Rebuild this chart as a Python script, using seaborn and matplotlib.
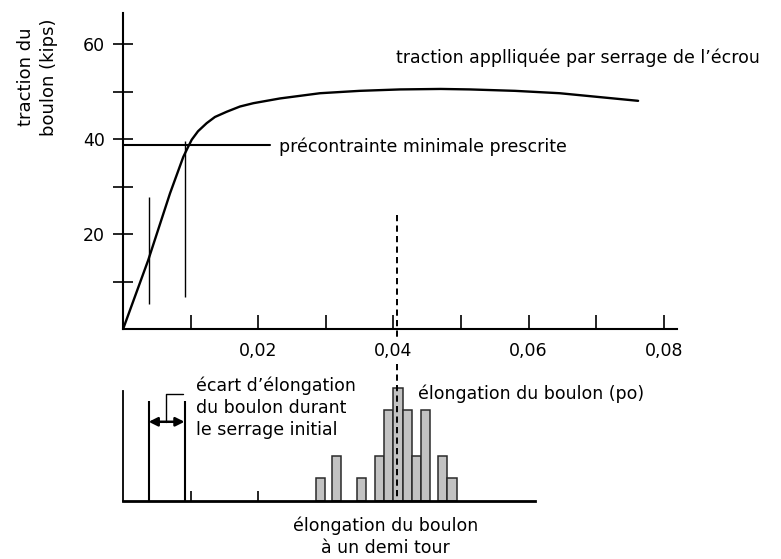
import matplotlib
matplotlib.use("Agg")
import matplotlib.pyplot as plt
import seaborn as sns
import pandas as pd

# ---------------- data ----------------
# tension curve (elongation in inches, tension in kips)
curve_x = [0.0, 0.00374, 0.00695, 0.00892, 0.00960, 0.01016, 0.01110, 0.01238,
           0.01360, 0.01534, 0.01730, 0.01928, 0.02322, 0.02914, 0.03500,
           0.04098, 0.04700, 0.05133, 0.05800, 0.06460, 0.0762]
curve_y = [0.0, 14.6, 28.6, 36.3, 38.3, 39.9, 41.7, 43.4,
           44.7, 45.8, 46.9, 47.6, 48.6, 49.7, 50.2,
           50.5, 50.6, 50.5, 50.2, 49.7, 48.1]

# distribution of elongation at half turn
bar_x = [0.02917, 0.03156, 0.03525, 0.03795, 0.03932, 0.04069, 0.04206,
         0.04343, 0.04480, 0.04729, 0.04867]
bar_counts = [1, 2, 1, 2, 4, 5, 4, 2, 4, 2, 1]

x_ticks_major = [0.02, 0.04, 0.06, 0.08]
x_tick_labels = ["0,02", "0,04", "0,06", "0,08"]
x_ticks_minor = [0.01, 0.03, 0.05, 0.07]
y_ticks_major = [20, 40, 60]
y_tick_labels = ["20", "40", "60"]
y_ticks_minor = [10, 30, 50]

preload_level = 38.8            # précontrainte minimale prescrite
preload_end_x = 0.0217
snug_x = [0.0038, 0.0091]       # range of elongation at snug-tight
snug_top_low = [5.3, 6.7]
snug_top_high = [27.8, 39.7]
half_turn_x = 0.0405

# ---------------- style ----------------
sns.set_theme(style="ticks")
plt.rcParams['font.family'] = ['DejaVu Sans']
for k in ["text.color", "axes.labelcolor", "xtick.color", "ytick.color",
          "axes.edgecolor"]:
    plt.rcParams[k] = "black"
FS = 12.5

W, H = 781, 559
fig = plt.figure(figsize=(W / 100, H / 100), dpi=100)
# pixel geometry
x0, x1 = 123, 677
top_base, top_top = 329.3, 13
bot_base, bot_top = 501, 380
ax = fig.add_axes([x0 / W, (H - top_base) / H, (x1 - x0) / W, (top_base - top_top) / H])
ax2 = fig.add_axes([x0 / W, (H - bot_base) / H, (x1 - x0) / W, (bot_base - bot_top) / H])
xmax = (x1 - x0) / 6760
ymax_top = (top_base - top_top) / 4.75
ymax_bot = (bot_base - bot_top) / 22.7

# ---------------- top chart ----------------
curve = pd.DataFrame({"x": curve_x, "y": curve_y})
sns.lineplot(data=curve, x="x", y="y", ax=ax, color="black", lw=1.7,
             sort=False, estimator=None)
ax.plot([0, preload_end_x], [preload_level, preload_level], color="black", lw=1.5)
ax.vlines(snug_x, snug_top_low, snug_top_high, color="black", lw=1.0)
ax.plot([half_turn_x, half_turn_x], [24.1, -2.3], color="black", lw=1.4,
        ls=(0, (3.2, 2.2)), clip_on=False)

ax.set_xlim(0, xmax)
ax.set_ylim(0, ymax_top)
ax.set_xlabel("")
ax.set_ylabel("")
for s in ["top", "right"]:
    ax.spines[s].set_visible(False)
for s in ["left", "bottom"]:
    ax.spines[s].set_linewidth(1.5)
    ax.spines[s].set_color("black")

ax.set_xticks(x_ticks_major, x_tick_labels)
ax.set_xticks(x_ticks_minor, minor=True)
ax.set_yticks(y_ticks_major, y_tick_labels)
ax.set_yticks(y_ticks_minor, minor=True)
ax.tick_params(axis="x", which="both", direction="in", length=10, width=1.2,
               color="black", labelcolor="black", labelsize=FS, pad=9, bottom=True)
ax.tick_params(axis="y", which="both", direction="inout", length=14.5, width=1.2,
               color="black", labelcolor="black", labelsize=FS, pad=6, left=True)

ax.text(0.04038, 56.0, "traction applliquée par serrage de l’écrou",
        fontsize=FS, ha="left", va="baseline", color="black")
ax.text(0.02313, 37.4, "précontrainte minimale prescrite",
        fontsize=FS, ha="left", va="baseline", color="black")
fig.text(37.5 / W, 1 - 77 / H, "traction du\nboulon (kips)", rotation=90,
         fontsize=FS + 0.5, ha="center", va="center", multialignment="center",
         linespacing=1.3, color="black")

# ---------------- bottom chart ----------------
hist = pd.DataFrame({"x": bar_x, "n": bar_counts})
sns.barplot(data=hist, x="x", y="n", ax=ax2, native_scale=True, orient="x",
            width=1.0, color="#c2c2c2", edgecolor="#2a2a2a", linewidth=1.1,
            saturation=1)
ax2.plot([half_turn_x, half_turn_x], [6.03, 0], color="black", lw=1.4,
         ls=(0, (3.2, 2.2)), clip_on=False)
ax2.vlines(snug_x, [0, 0], [4.42, 4.42], color="black", lw=1.5)
ax2.annotate("", xy=(snug_x[0], 3.49), xytext=(snug_x[1], 3.49),
             arrowprops=dict(arrowstyle="<|-|>", lw=1.8, color="black",
                             shrinkA=0, shrinkB=0, mutation_scale=13))
ax2.plot([0.00632, 0.00632, 0.0089], [3.49, 4.70, 4.70], color="black", lw=1.0)

ax2.set_xlim(0, xmax)
ax2.set_ylim(0, ymax_bot)
ax2.set_xlabel("")
ax2.set_ylabel("")
for s in ["top", "right"]:
    ax2.spines[s].set_visible(False)
ax2.spines["bottom"].set_bounds(0, 0.061)
ax2.spines["left"].set_bounds(0, 4.85)
ax2.spines["bottom"].set_linewidth(2)
ax2.spines["left"].set_linewidth(1.3)
for s in ["left", "bottom"]:
    ax2.spines[s].set_color("black")
ax2.set_xticks([0.01, 0.02], ["", ""])
ax2.set_yticks([])
ax2.tick_params(axis="x", direction="in", length=7, width=1.2, color="black",
                bottom=True)

ax2.text(0.04364, 4.48, "élongation du boulon (po)", fontsize=FS,
         ha="left", va="baseline", color="black")
ax2.text(0.01075, 4.11, "écart d’élongation\ndu boulon durant\nle serrage initial",
         fontsize=FS, ha="left", va="center", linespacing=1.27, color="black")
ax2.text(0.03885, -1.56, "élongation du boulon\nà un demi tour", fontsize=FS,
         ha="center", va="center", linespacing=1.3, multialignment="center",
         clip_on=False, color="black")

fig.savefig("out.png", dpi=100)
